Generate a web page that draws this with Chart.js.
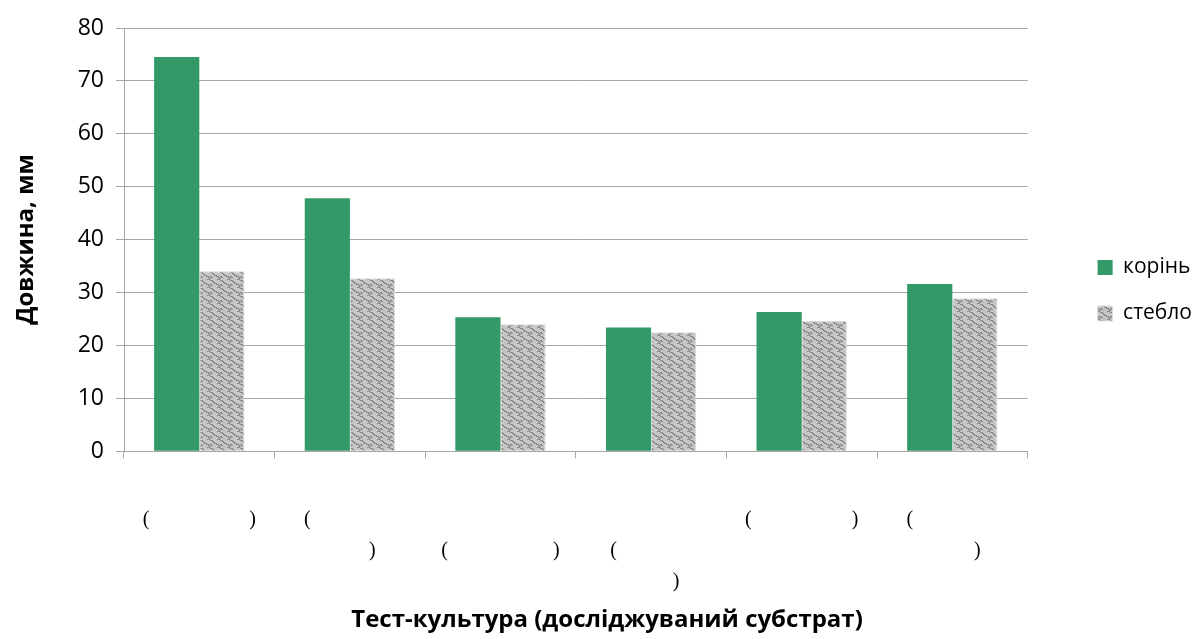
<!DOCTYPE html>
<html>
<head>
  <meta http-equiv="content-type" content="text/html; charset=utf-8"/>
  <script src="https://cdn.jsdelivr.net/npm/chart.js@4/dist/chart.umd.min.js"></script>
  <style>
    body { margin: 0; background: #fff; }
  </style>
</head>
<body>
<canvas id="chart" width="1202" height="639"></canvas>

<script>
    // category labels: only the brackets survived in the source picture
    const sp = n => ' '.repeat(n);
    const categories = [
        ['(' + sp(20) + ')'],
        ['(' + sp(17), sp(9) + ')'],
        ['', '(' + sp(21) + ')'],
        ['', '(' + sp(15), sp(10) + ')'],
        ['(' + sp(20) + ')'],
        ['(' + sp(17), sp(10) + ')']
    ];
    const rootValues = [74.5, 47.8, 25.3, 23.4, 26.3, 31.6];
    const stemValues = [34.0, 32.7, 24.0, 22.5, 24.6, 28.9];
    const yTicks = [0, 10, 20, 30, 40, 50, 60, 70, 80];

    function hatch() {
        const c = document.createElement('canvas');
        c.width = 10; c.height = 8;
        const g = c.getContext('2d');
        g.fillStyle = '#c6c6c6';
        g.fillRect(0, 0, 10, 8);
        g.fillStyle = '#8a8a8a';
        // stair-step zigzag, like the weave fill
        g.fillRect(0, 0, 3, 1);
        g.fillRect(2, 1, 2, 1);
        g.fillRect(3, 2, 2, 1);
        g.fillRect(4, 3, 3, 1);
        g.fillRect(6, 4, 3, 1);
        g.fillRect(8, 5, 2, 1);
        g.fillRect(0, 4, 2, 1);
        g.fillRect(1, 5, 2, 1);
        g.fillRect(9, 6, 1, 1);
        g.fillRect(0, 6, 1, 1);
        g.fillRect(7, 7, 3, 1);
        return g.createPattern(c, 'repeat');
    }

    const axisGray = '#a6a6a6';
    const font = 'Open Sans';

    new Chart(document.getElementById('chart'), {
        type: 'bar',
        data: {
            labels: categories,
            datasets: [{
                label: 'корінь',
                data: rootValues,
                backgroundColor: '#339966',
                borderWidth: 0,
                categoryPercentage: 0.6,
                barPercentage: 1.0
            }, {
                label: 'стебло',
                data: stemValues,
                backgroundColor: hatch(),
                borderColor: '#dedede',
                borderWidth: 1,
                categoryPercentage: 0.6,
                barPercentage: 1.0
            }]
        },
        options: {
            responsive: false,
            animation: false,
            layout: { padding: { top: 28, left: 12, right: 0, bottom: 0 } },
            plugins: {
                tooltip: { enabled: false },
                legend: {
                    position: 'right',
                    align: 'start',
                    title: {
                        display: true,
                        text: '',
                        font: { size: 10 },
                        padding: { top: 192, bottom: 0 }
                    },
                    labels: {
                        boxWidth: 15,
                        boxHeight: 15,
                        padding: 25,
                        color: '#000',
                        font: { family: font, size: 21 }
                    }
                },
                title: {
                    display: true,
                    position: 'bottom',
                    text: 'Тест-культура (досліджуваний субстрат)',
                    color: '#000',
                    font: { family: font, size: 24, weight: 'bold' },
                    padding: { top: 9, bottom: 4 }
                }
            },
            scales: {
                x: {
                    grid: {
                        offset: true,
                        drawOnChartArea: false,
                        drawTicks: true,
                        tickLength: 7,
                        color: axisGray
                    },
                    border: { color: axisGray },
                    ticks: {
                        autoSkip: false,
                        maxRotation: 0,
                        padding: 46,
                        color: '#000',
                        font: { family: 'Liberation Serif', size: 20, lineHeight: 1.55 }
                    },
                    afterFit: s => { s.height = 146; }
                },
                y: {
                    min: 0,
                    max: 80,
                    afterBuildTicks: s => { s.ticks = yTicks.map(v => ({ value: v })); },
                    grid: { color: axisGray, tickLength: 8 },
                    border: { color: axisGray },
                    ticks: {
                        padding: 12,
                        color: '#000',
                        font: { family: font, size: 23 }
                    },
                    title: {
                        display: true,
                        text: 'Довжина, мм',
                        color: '#000',
                        font: { family: font, size: 24, weight: 'bold' },
                        padding: { top: 0, bottom: 30 }
                    },
                    afterFit: s => { s.width = 112; }
                },
                gap: {
                    position: 'right',
                    grid: { display: false },
                    border: { display: false },
                    ticks: { display: false },
                    afterFit: s => { s.width = 45; }
                }
            }
        }
    });
</script>
</body>
</html>
